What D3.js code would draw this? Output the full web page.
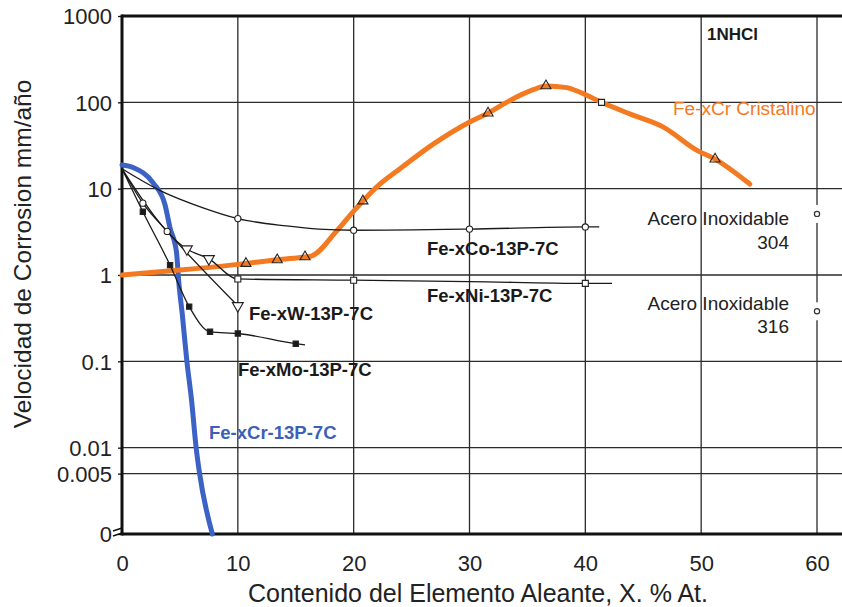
<!DOCTYPE html>
<html lang="es">
<head>
<meta charset="UTF-8">
<title>Velocidad de Corrosion</title>
<script src="https://d3js.org/d3.v7.min.js"></script>
<style>
  body { margin: 0; background: #fff; }
  svg { display: block; background: #fff; font-family: "Liberation Sans", Arial, sans-serif; }
  .grid line { stroke: #2b2b2b; stroke-width: 1.3px; }
  .frame { stroke: #111; stroke-width: 3px; }
  .thin { fill: none; stroke: #1a1a1a; stroke-width: 1.3px; }
  .lbl { font-weight: bold; font-size: 18.5px; fill: #1a1a1a; }
  .note { font-size: 19px; fill: #222; }
  .axis text { font-size: 22px; fill: #222; font-family: "Liberation Sans", Arial, sans-serif; }
  .axis line { stroke: #111; stroke-width: 1.3px; }
</style>
</head>
<body>
<svg width="842" height="607"></svg>
<script>
const xTicks = [0, 10, 20, 30, 40, 50, 60];
const yTicks = [0, 0.005, 0.01, 0.1, 1, 10, 100, 1000];
const yFloor = 0.001; // the broken axis puts "0" here

// [X %at, mm/año, marker]  marker: o circle, s square, S filled square, v / ^ triangles
const coPts = [[0,17,""],[3.3,9.5,""],[7,6.0,""],[10,4.5,"o"],[14.2,3.7,""],[17,3.4,""],[20,3.3,"o"],[30,3.4,"o"],[40,3.6,"o"],[41.2,3.6,""]];
const niPts = [[0,17,""],[5.6,2.0,"v"],[7.5,1.54,"v"],[10,0.9,"s"],[20,0.87,"s"],[30,0.84,""],[40,0.8,"s"],[42.3,0.8,""]];
const wPts  = [[0,17,""],[1.8,6.8,"o"],[3.9,3.2,"o"],[10,0.44,"v"]];
const moPts = [[0,17,""],[1.8,5.4,"S"],[4.15,1.3,"S"],[5.8,0.43,"S"],[7.6,0.22,"S"],[10,0.21,"S"],[15,0.16,"S"],[15.8,0.155,""]];
const crAmorfoPts = [[0,18.8,""],[1,17.5,""],[2.7,11.6,""],[3.7,6.6,""],[4.15,3.5,""],[4.7,1.86,""],[4.9,0.83,""],[5.2,0.355,""],[5.6,0.1,""],[6.0,0.036,""],[6.4,0.01,""],[6.7,0.005,""],[7.8,0,""]];
const crCristPts = [[0,1.0,""],[5,1.14,""],[9.6,1.31,""],[10.7,1.36,"^"],[13.4,1.5,"^"],[15.8,1.62,"^"],[16.3,1.65,""],[18.5,3.2,""],[20,5.5,""],[20.8,7.2,"^"],[22,10.5,""],[24,17,""],[26.9,33,""],[30.1,60,""],[31.6,75,"^"],[33.2,100,""],[35.5,140,""],[36.6,155,"^"],[38.4,148,""],[39.6,130,""],[41.4,100,"s"],[44,72,""],[46.7,52,""],[49.6,28,""],[51.2,22,"^"],[54.2,11.3,""]];
const aceroPts = [[60,5.1,"304"],[60,0.38,"316"]];

const svg = d3.select("svg");
const plotRight = 842, plotTop = 16, plotBottom = 534, plotLeft = 122;

const x = d3.scaleLinear().domain([0, 60]).range([plotLeft, 817]);
const y = d3.scaleLog().domain([yFloor, 1000]).range([plotBottom, plotTop]);
const yv = v => y(Math.max(v, yFloor));

// grid
const grid = svg.append("g").attr("class", "grid");
grid.selectAll(".gx").data(xTicks.slice(1)).enter().append("line")
  .attr("x1", d => x(d)).attr("x2", d => x(d)).attr("y1", plotTop).attr("y2", plotBottom);
grid.selectAll(".gy").data(yTicks.filter(v => v > 0 && v < 1000)).enter().append("line")
  .attr("x1", plotLeft).attr("x2", plotRight).attr("y1", d => yv(d)).attr("y2", d => yv(d));

// stainless steel points sit on the 60 line with a small gap
const acero = svg.append("g");
acero.selectAll("rect").data(aceroPts).enter().append("rect")
  .attr("x", d => x(d[0]) - 4).attr("y", d => yv(d[1]) - 9).attr("width", 8).attr("height", 18).attr("fill", "#fff");
acero.selectAll("circle").data(aceroPts).enter().append("circle")
  .attr("cx", d => x(d[0])).attr("cy", d => yv(d[1])).attr("r", 2.6)
  .attr("fill", "#fff").attr("stroke", "#333").attr("stroke-width", 1.2);

// frame
svg.append("line").attr("class", "frame").attr("x1", plotLeft).attr("x2", plotLeft).attr("y1", plotTop - 1.5).attr("y2", plotBottom + 1.5);
svg.append("line").attr("class", "frame").attr("x1", plotLeft).attr("x2", plotRight).attr("y1", plotTop).attr("y2", plotTop);
svg.append("line").attr("class", "frame").attr("x1", plotLeft).attr("x2", plotRight).attr("y1", plotBottom).attr("y2", plotBottom).attr("stroke-width", 3.5);

// axes
const yAxis = svg.append("g").attr("class", "axis").attr("transform", `translate(${plotLeft},0)`)
  .call(d3.axisLeft(y).tickValues(yTicks.map(v => Math.max(v, yFloor)))
    .tickFormat((d, i) => String(yTicks[i])).tickSize(4).tickPadding(6));
yAxis.select(".domain").remove();
yAxis.selectAll("text").attr("dy", "0.36em");

const xAxis = svg.append("g").attr("class", "axis").attr("transform", `translate(0,${plotBottom})`)
  .call(d3.axisBottom(x).tickValues(xTicks).tickSize(0));
xAxis.select(".domain").remove();
xAxis.selectAll("text").attr("y", 37).attr("dy", 0);

// axis break mark near "0"
svg.append("path").attr("d", `M${plotLeft-9},${plotBottom-3} l9,-3 M${plotLeft-9},${plotBottom+2} l9,-3`)
  .attr("stroke", "#111").attr("stroke-width", 1.4).attr("fill", "none");

svg.append("text").attr("x", 478).attr("y", 602).attr("text-anchor", "middle")
  .style("font-size", "25px").style("fill", "#222")
  .text("Contenido del Elemento Aleante, X. % At.");
svg.append("text").attr("transform", "translate(22,254) rotate(-90)")
  .attr("text-anchor", "middle").attr("dominant-baseline", "central")
  .style("font-size", "24.5px").style("fill", "#222")
  .text("Velocidad de Corrosion mm/año");

const line = d3.line().x(d => x(d[0])).y(d => yv(d[1])).curve(d3.curveMonotoneX);

// thick curves
svg.append("path").datum(crAmorfoPts).attr("d", line)
  .attr("fill", "none").attr("stroke", "#3b62c4").attr("stroke-width", 5).attr("stroke-linecap", "round");
svg.append("path").datum(crCristPts).attr("d", line)
  .attr("fill", "none").attr("stroke", "#f47a22").attr("stroke-width", 5).attr("stroke-linecap", "round");

// thin curves
[coPts, niPts, wPts, moPts].forEach(pts => {
  svg.append("path").datum(pts).attr("class", "thin").attr("d", line);
});

// markers
const shapes = {
  o: { type: d3.symbolCircle, size: 30, fill: "#fff", rot: 0 },
  s: { type: d3.symbolSquare, size: 36, fill: "#fff", rot: 0 },
  S: { type: d3.symbolSquare, size: 28, fill: "#1a1a1a", rot: 0 },
  v: { type: d3.symbolTriangle, size: 52, fill: "#fff", rot: 180 },
  "^": { type: d3.symbolTriangle, size: 44, fill: "none", rot: 0 }
};
const marks = [coPts, niPts, wPts, moPts, crCristPts].flatMap(pts => pts.filter(p => p[2]));
svg.append("g").selectAll("path").data(marks).enter().append("path")
  .attr("d", d => d3.symbol().type(shapes[d[2]].type).size(shapes[d[2]].size)())
  .attr("transform", d => `translate(${x(d[0])},${yv(d[1])}) rotate(${shapes[d[2]].rot})`)
  .attr("fill", d => shapes[d[2]].fill)
  .attr("stroke", "#222").attr("stroke-width", 1.1);

// labels
const labels = [
  { t: "Fe-xCo-13P-7C", x: 427, y: 254.5 },
  { t: "Fe-xNi-13P-7C", x: 427, y: 301.5 },
  { t: "Fe-xW-13P-7C", x: 249, y: 319.5 },
  { t: "Fe-xMo-13P-7C", x: 238, y: 375.5 },
  { t: "Fe-xCr-13P-7C", x: 209, y: 438.5, c: "#3d5fb8" }
];
svg.append("g").selectAll("text").data(labels).enter().append("text")
  .attr("class", "lbl").attr("x", d => d.x).attr("y", d => d.y)
  .style("fill", d => d.c || null).text(d => d.t);

svg.append("text").attr("x", 707).attr("y", 40).style("font-weight", "bold").style("font-size", "17px")
  .style("fill", "#1a1a1a").text("1NHCl");
svg.append("text").attr("class", "note").attr("x", 673).attr("y", 115).style("fill", "#f47a22")
  .text("Fe-xCr Cristalino");

const notes = [
  { t: "Acero Inoxidable", y: 225 }, { t: "304", y: 249 },
  { t: "Acero Inoxidable", y: 310 }, { t: "316", y: 333 }
];
svg.append("g").selectAll("text").data(notes).enter().append("text")
  .attr("class", "note").attr("x", 789).attr("y", d => d.y).attr("text-anchor", "end").text(d => d.t);
</script>
</body>
</html>
